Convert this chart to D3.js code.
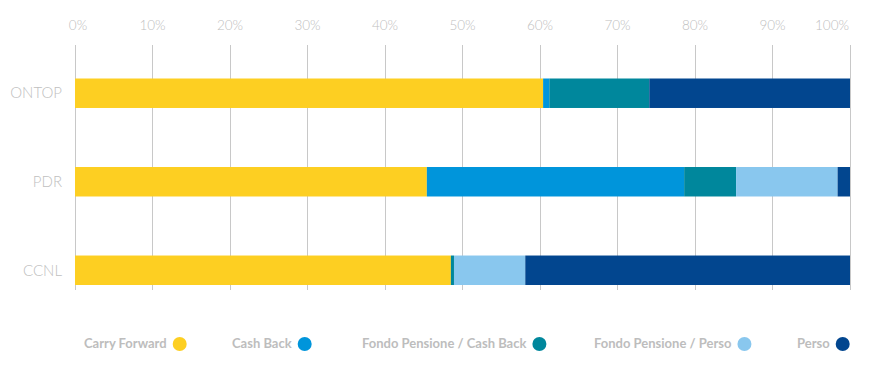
<!DOCTYPE html>
<html>
<head>
<meta charset="utf-8">
<script src="https://cdn.jsdelivr.net/npm/d3@7"></script>
<style>
  body { margin: 0; background: #fff; }
  text { font-family: Lato, "Open Sans", sans-serif; }
</style>
</head>
<body>
<div id="chart"></div>
<script>
// categories and series (percent shares)
const categories = ["ONTOP", "PDR", "CCNL"];
const seriesNames = ["Carry Forward", "Cash Back", "Fondo Pensione / Cash Back", "Fondo Pensione / Perso", "Perso"];
const carryForward = [60.4, 45.4, 48.5];
const cashBack = [0.8, 33.2, 0.0];
const fondoCashBack = [12.9, 6.7, 0.4];
const fondoPerso = [0.0, 13.1, 9.2];
const perso = [25.9, 1.6, 41.9];
const tickValues = [0, 10, 20, 30, 40, 50, 60, 70, 80, 90, 100];
const colors = ["#fdcf22", "#0095db", "#00879c", "#89c7ee", "#02468f"];

const width = 875, height = 371;
const margin = { top: 45, right: 25, left: 75 };
const gridBottom = 290;

const svg = d3.select("#chart")
    .append("svg")
    .attr("width", width)
    .attr("height", height);

// build rows for stacking
const seriesValues = [carryForward, cashBack, fondoCashBack, fondoPerso, perso];
const data = categories.map((c, i) => {
    const row = { cat: c };
    seriesNames.forEach((s, j) => row[s] = seriesValues[j][i]);
    return row;
});
const stacked = d3.stack().keys(seriesNames)(data);

const x = d3.scaleLinear().domain([0, 100]).range([margin.left, width - margin.right]);
const y = d3.scaleBand().domain(categories)
    .range([margin.top, 318.5])
    .paddingInner(0.667).paddingOuter(0.3785);

// gridlines
svg.append("g")
    .selectAll("line")
    .data(tickValues)
    .join("line")
    .attr("x1", d => x(d)).attr("x2", d => x(d))
    .attr("y1", margin.top).attr("y2", gridBottom)
    .attr("stroke", "#c8c8c8")
    .attr("stroke-width", 1)
    .attr("shape-rendering", "crispEdges");

// top tick labels
svg.append("g")
    .selectAll("text")
    .data(tickValues)
    .join("text")
    .attr("x", d => d === 100 ? x(d) - 1 : x(d) + (d === 0 ? 3 : 0))
    .attr("y", 30)
    .attr("text-anchor", d => d === 100 ? "end" : "middle")
    .attr("fill", "#c0c0c0")
    .style("font-size", "13.5px")
    .style("font-weight", 300)
    .text(d => d + "%");

// bars
svg.append("g")
    .selectAll("g")
    .data(stacked)
    .join("g")
    .attr("fill", (d, i) => colors[i])
    .selectAll("rect")
    .data(d => d)
    .join("rect")
    .attr("x", d => x(d[0]))
    .attr("width", d => x(d[1]) - x(d[0]))
    .attr("y", d => y(d.data.cat))
    .attr("height", y.bandwidth());

// category labels
svg.append("g")
    .selectAll("text")
    .data(categories)
    .join("text")
    .attr("x", 62)
    .attr("y", d => y(d) + y.bandwidth() / 2)
    .attr("dy", "0.35em")
    .attr("text-anchor", "end")
    .attr("fill", "#c0c0c0")
    .style("font-size", "15px")
    .style("font-weight", 300)
    .text(d => d);

// legend
const legendX = [84, 232, 362, 594, 797];
const legend = svg.append("g")
    .selectAll("g")
    .data(seriesNames)
    .join("g")
    .attr("transform", (d, i) => `translate(${legendX[i]}, 343)`);

legend.append("text")
    .attr("dy", "0.35em")
    .attr("fill", "#bdbdbd")
    .style("font-size", "13px")
    .style("font-weight", 700)
    .text(d => d);

legend.each(function (d, i) {
    const g = d3.select(this);
    const w = g.select("text").node().getComputedTextLength();
    g.append("circle")
        .attr("cx", w + 13)
        .attr("cy", 1)
        .attr("r", 7)
        .attr("fill", colors[i]);
});
</script>
</body>
</html>
